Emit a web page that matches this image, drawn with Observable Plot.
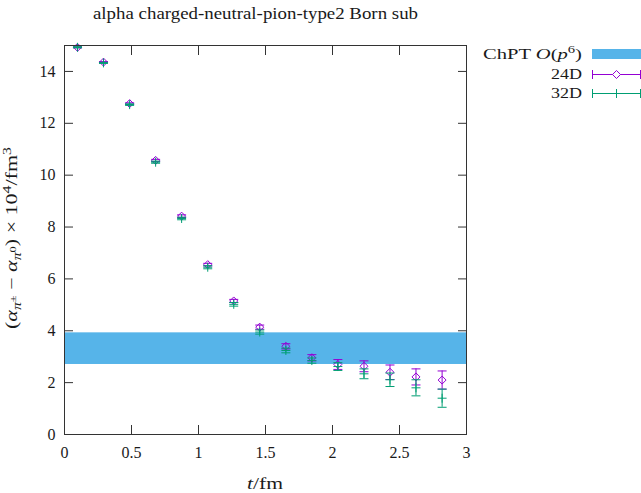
<!DOCTYPE html>
<html><head><meta charset="utf-8">
<script src="https://cdn.jsdelivr.net/npm/d3@7"></script>
<script src="https://cdn.jsdelivr.net/npm/@observablehq/plot@0.6"></script>
<style>
body{margin:0;background:#fff;}
#wrap{position:relative;width:641px;height:493px;overflow:hidden;}
#wrap svg{position:absolute;left:0;top:0;}
</style></head><body>
<div id="wrap"></div>
<script>
// ---- data ----
const title = "alpha charged-neutral-pion-type2 Born sub";
const t = [0.097, 0.291, 0.486, 0.680, 0.874, 1.069, 1.263, 1.457, 1.652, 1.846, 2.040, 2.235, 2.429, 2.623, 2.818];
const y24 = [14.93, 14.36, 12.76, 10.57, 8.42, 6.55, 5.15, 4.14, 3.40, 2.96, 2.70, 2.63, 2.40, 2.22, 2.10];
const e24 = [0.02, 0.02, 0.03, 0.04, 0.05, 0.05, 0.06, 0.08, 0.10, 0.12, 0.19, 0.21, 0.28, 0.31, 0.35];
const y32 = [14.93, 14.33, 12.72, 10.50, 8.33, 6.45, 5.02, 3.95, 3.24, 2.85, 2.62, 2.34, 2.11, 1.80, 1.40];
const e32 = [0.02, 0.02, 0.03, 0.04, 0.05, 0.06, 0.07, 0.08, 0.09, 0.10, 0.15, 0.19, 0.26, 0.31, 0.35];
const chptBand = [2.70, 3.92];
const xTicks = [0, 0.5, 1, 1.5, 2, 2.5, 3];
const yTicks = [0, 2, 4, 6, 8, 10, 12, 14];
const xDomain = [0, 3];
const yDomain = [0, 15];
const seriesNames = ["ChPT O(p^6)", "24D", "32D"];
const colors = {chpt: "#56b4e9", d24: "#9400d3", d32: "#009e73"};

const FONT = "'Liberation Serif', 'DejaVu Serif', serif";
const TXT = "#1a1a1a";
const d24 = t.map((x, i) => ({t: x, y: y24[i], lo: y24[i] - e24[i], hi: y24[i] + e24[i]}));
const d32 = t.map((x, i) => ({t: x, y: y32[i], lo: y32[i] - e32[i], hi: y32[i] + e32[i]}));

const cap = {draw(ctx, size) { const w = Math.sqrt(size / Math.PI); ctx.moveTo(-w, 0); ctx.lineTo(w, 0); }};

function errMarks(data, color, symbol, r) {
  return [
    Plot.ruleX(data, {x: "t", y1: "lo", y2: "hi", stroke: color, strokeWidth: 1}),
    Plot.dot(data, {x: "t", y: "lo", symbol: cap, r: 4.5, stroke: color, strokeWidth: 1}),
    Plot.dot(data, {x: "t", y: "hi", symbol: cap, r: 4.5, stroke: color, strokeWidth: 1}),
    Plot.dot(data, {x: "t", y: "y", symbol, r, stroke: color, strokeWidth: 1})
  ];
}

const plot = Plot.plot({
  width: 641, height: 493,
  marginLeft: 64, marginRight: 175, marginTop: 45, marginBottom: 59,
  x: {domain: xDomain},
  y: {domain: yDomain},
  style: {fontFamily: FONT, fontSize: "16px", background: "transparent", color: TXT},
  marks: [
    Plot.rect([chptBand], {x1: () => xDomain[0], x2: () => xDomain[1], y1: d => d[0], y2: d => d[1], fill: colors.chpt}),
    ...errMarks(d24, colors.d24, "diamond2", 3.6),
    ...errMarks(d32, colors.d32, "plus", 3),
    Plot.frame({stroke: "#333"}),
    Plot.axisX({ticks: xTicks, tickSize: -9, tickPadding: 21, label: null, tickFormat: d => String(d), stroke: "#333"}),
    Plot.axisX({anchor: "top", ticks: xTicks, tickSize: -9, label: null, tickFormat: () => "", stroke: "#333"}),
    Plot.axisY({ticks: yTicks, tickSize: -9, tickPadding: 18, label: null, tickFormat: d => String(d), stroke: "#333"}),
    Plot.axisY({anchor: "right", ticks: yTicks, tickSize: -9, label: null, tickFormat: () => "", stroke: "#333"})
  ]
});

const wrap = document.getElementById("wrap");
wrap.appendChild(plot);

// ---- overlay: title, axis labels, legend ----
const svg = d3.select(wrap).append("svg")
  .attr("width", 641).attr("height", 493)
  .attr("font-family", FONT).attr("fill", TXT);

svg.append("text").attr("x", 255.5).attr("y", 18.5).attr("text-anchor", "middle")
  .attr("font-size", 16.5).attr("textLength", 325).attr("lengthAdjust", "spacingAndGlyphs")
  .text(title);

// y label
const yl = svg.append("text").attr("transform", "translate(17,238) rotate(-90)")
  .attr("text-anchor", "middle").attr("font-size", 16)
  .attr("textLength", 182).attr("lengthAdjust", "spacingAndGlyphs");
const parts = [
  ["(", 0, 16, ""], ["α", 0, 16, "italic"], ["π", 4, 11.5, "italic"], ["±", -5, 9, ""],
  [" − ", 1, 16, ""], ["α", 0, 16, "italic"], ["π", 4, 11.5, "italic"], ["0", -5, 9, ""],
  [") × 10", 1, 16, ""], ["4", -6, 11.5, ""], ["/fm", 6, 16, ""], ["3", -6, 11.5, ""]
];
parts.forEach(([s, dy, fs, st]) => yl.append("tspan").attr("dy", dy).attr("font-size", fs).attr("font-style", st || null).text(s));

// x label
const xl = svg.append("text").attr("x", 265).attr("y", 489).attr("text-anchor", "middle")
  .attr("font-size", 16).attr("textLength", 36).attr("lengthAdjust", "spacingAndGlyphs");
xl.append("tspan").attr("font-style", "italic").text("t");
xl.append("tspan").text("/fm");

// legend
const l0 = svg.append("text").attr("x", 582).attr("y", 58.5).attr("text-anchor", "end").attr("font-size", 15.5)
  .attr("textLength", 99).attr("lengthAdjust", "spacingAndGlyphs");
l0.append("tspan").text("ChPT ");
l0.append("tspan").attr("font-style", "italic").text("O");
l0.append("tspan").text("(");
l0.append("tspan").attr("font-style", "italic").text("p");
l0.append("tspan").attr("dy", -6).attr("font-size", 11).text("6");
l0.append("tspan").attr("dy", 6).text(")");
[[seriesNames[1], 78.5], [seriesNames[2], 98]].forEach(([s, y]) =>
  svg.append("text").attr("x", 582).attr("y", y).attr("text-anchor", "end").attr("font-size", 15.5)
    .attr("textLength", 31).attr("lengthAdjust", "spacingAndGlyphs").text(s));

svg.append("rect").attr("x", 592).attr("y", 49).attr("width", 60).attr("height", 10).attr("fill", colors.chpt);
[[colors.d24, 74.5, "d"], [colors.d32, 93.5, "p"]].forEach(([c, y, m]) => {
  const g = svg.append("g").attr("stroke", c).attr("fill", "none").attr("stroke-width", 1);
  g.append("line").attr("x1", 592.5).attr("x2", 640.5).attr("y1", y).attr("y2", y);
  [592.5, 640.5].forEach(x => g.append("line").attr("x1", x).attr("x2", x).attr("y1", y - 4.5).attr("y2", y + 4.5));
  if (m === "d") g.append("path").attr("d", `M616.5,${y-4}L620.5,${y}L616.5,${y+4}L612.5,${y}Z`).attr("fill", "#fff");
  else g.append("line").attr("x1", 616.5).attr("x2", 616.5).attr("y1", y - 4.5).attr("y2", y + 4.5);
});
</script>
</body></html>
